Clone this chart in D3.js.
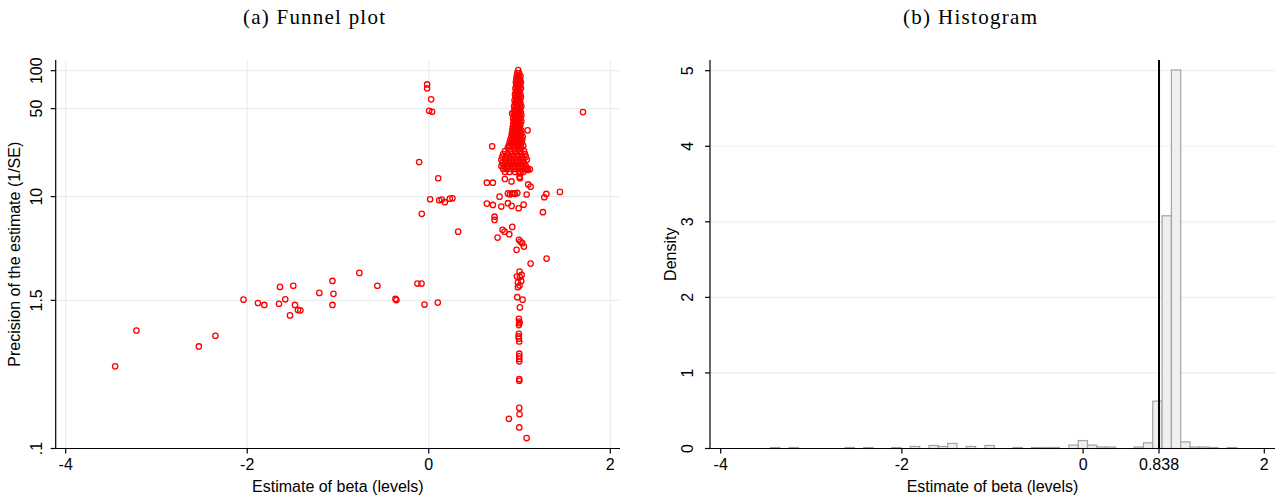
<!DOCTYPE html>
<html>
<head>
<meta charset="utf-8">
<script src="https://cdn.jsdelivr.net/npm/d3@7"></script>
<style>
  html, body { margin: 0; padding: 0; background: #fff; }
  svg { display: block; }
  .tick-label { font-family: "Liberation Sans", Arial, sans-serif; font-size: 16px; fill: #000; }
  .axis-title { font-family: "Liberation Sans", Arial, sans-serif; font-size: 16px; fill: #000; }
  .panel-title { font-family: "Liberation Serif", "DejaVu Serif", serif; font-size: 21px; fill: #000; }
</style>
</head>
<body>
<svg id="chart" width="1283" height="500"></svg>
<script>
// ---------------- DATA ----------------
const panelTitles = ["(a)  Funnel plot", "(b)  Histogram"];
const xTitle = "Estimate of beta (levels)";
const funnelYTitle = "Precision of the estimate (1/SE)";
const histYTitle = "Density";

const funnelXTicks = [-4, -2, 0, 2];
const funnelYTicks = [0.1, 1.5, 10, 50, 100];
const funnelYTickLabels = [".1", "1.5", "10", "50", "100"];

const histXTicks = [-4, -2, 0, 0.838, 2];
const histXTickLabels = ["-4", "-2", "0", "0.838", "2"];
const histYTicks = [0, 1, 2, 3, 4, 5];
const meanBeta = 0.838;

// histogram bins: start, width, densities per bin
const histStart = -3.45;
const histBinWidth = 0.1029;
const histDensity = [
  0.013, 0, 0.013, 0, 0, 0, 0, 0, 0.013, 0,
  0.013, 0, 0, 0.013, 0, 0.027, 0, 0.04, 0.027, 0.067,
  0, 0.027, 0, 0.04, 0, 0, 0.013, 0, 0.013, 0.013,
  0.013, 0, 0.045, 0.105, 0.045, 0.02, 0.02, 0, 0, 0.02,
  0.075, 0.627, 3.08, 5.01, 0.088, 0.02, 0.02, 0.013, 0, 0.013
];

// funnel plot: [estimate, precision]
const funnelScattered = [
  [-3.455,0.449],[-3.221,0.865],[-2.533,0.646],[-2.350,0.786],[-2.041,1.52],[-1.882,1.43],
  [-1.812,1.38],[-1.650,1.41],[-1.639,1.92],[-1.581,1.53],[-1.529,1.14],[-1.493,1.96],
  [-1.474,1.38],[-1.441,1.26],[-1.415,1.25],[-1.206,1.72],[-1.061,2.14],[-1.050,1.69],
  [-1.061,1.38],[-0.765,2.48],[-0.566,1.96],[-0.367,1.54],[-0.356,1.51],[-0.125,2.04],
  [-0.080,2.04],[-0.047,1.39],[0.099,1.44],
  [-0.018,77.8],[-0.018,72.4],[0.026,59.2],[0.004,48.1],[0.037,47.2],[1.699,46.9],
  [-0.106,18.8],[0.104,14.0],[0.699,25.1],[1.089,33.6],[0.015,9.53],[0.115,9.36],
  [0.143,9.47],[0.177,9.03],[0.232,9.64],[0.261,9.71],[-0.077,7.30],[0.324,5.27]
];
const funnelMiddle = [
  [0.640,12.9],[0.706,12.9],[0.838,13.8],[0.912,13.2],[0.780,10.0],[0.872,10.6],
  [0.894,10.4],[0.916,10.6],[0.934,10.6],[0.949,10.5],[0.975,10.7],[1.078,10.4],
  [0.640,8.80],[0.706,8.59],[0.872,8.87],[0.912,8.44],[0.799,8.34],[0.990,8.09],
  [1.045,8.64],[0.725,6.93],[0.725,6.53],[0.813,5.45],[0.835,5.27],[0.887,5.03],
  [0.920,5.75],[0.758,4.73],[1.096,12.5],[1.122,12.0],[1.273,9.89],[1.295,10.5],
  [1.445,10.9],[1.258,7.52],[0.993,4.54],[1.011,4.40],[1.030,4.27],[1.048,4.01],
  [0.967,3.78],[1.011,15.3],[1.004,14.0],[1.092,16.3],[1.067,16.5],[1.085,16.8],
  [1.114,16.5],[1.000,14.4],[0.919,45.8]
];
const funnelLowColumn = [
  [1.122,2.94],[1.298,3.22],[1.000,2.54],[1.023,2.39],[0.971,2.32],[1.004,2.30],
  [1.019,2.14],[0.982,2.08],[1.000,1.97],[0.982,1.91],[0.975,1.59],[1.034,1.52],
  [1.004,1.32],[0.993,1.07],[0.997,1.02],[1.000,0.99],[0.993,0.955],[0.993,0.815],
  [0.990,0.776],[0.993,0.745],[0.997,0.709],[0.997,0.566],[0.997,0.539],[0.997,0.514],
  [0.997,0.492],[0.997,0.356],[0.997,0.345],[0.997,0.210],[1.000,0.187],[0.883,0.172],
  [0.997,0.147],[1.078,0.121]
];
const funnelBlob = [
  [0.87,24.3],[0.93,24.3],[0.98,24.3],[1.02,24.3],
  [0.84,23.0],[0.90,23.0],[0.95,23.0],[1.00,23.0],[1.05,23.0],
  [0.82,21.8],[0.87,21.8],[0.92,21.8],[0.97,21.8],[1.02,21.8],[1.06,21.8],
  [0.81,20.7],[0.85,20.7],[0.89,20.7],[0.94,20.7],[0.99,20.7],[1.03,20.7],[1.07,20.7],
  [0.80,19.6],[0.84,19.6],[0.88,19.6],[0.92,19.6],[0.96,19.6],[1.00,19.6],[1.04,19.6],[1.08,19.6],
  [0.81,18.5],[0.85,18.5],[0.89,18.5],[0.93,18.5],[0.97,18.5],[1.01,18.5],[1.05,18.5],
  [0.80,17.5],[0.83,17.5],[0.87,17.5],[0.91,17.5],[0.95,17.5],[0.99,17.5],[1.03,17.5],[1.07,17.5],
  [0.82,16.6],[0.86,16.6],[0.90,16.6],[0.94,16.6],[0.98,16.6],[1.02,16.6],[1.06,16.6],
  [0.84,15.7],[0.89,15.7],[0.95,15.7],[1.00,15.7],[1.04,15.7]
];
const funnelColumn = [
  [0.985,101],[0.975,95.7],[0.995,95.7],[0.97,90.5],[0.99,90.5],[1.01,90.5],
  [0.965,85.6],[0.985,85.6],[1.005,85.6],[0.96,81.1],[0.98,81.1],[1.00,81.1],[1.015,81.1],
  [0.965,76.7],[0.985,76.7],[1.005,76.7],[0.955,72.6],[0.975,72.6],[0.995,72.6],[1.015,72.6],
  [0.96,68.7],[0.98,68.7],[1.00,68.7],[0.95,65.0],[0.97,65.0],[0.99,65.0],[1.01,65.0],
  [0.955,61.5],[0.975,61.5],[0.995,61.5],[1.015,61.5],[0.945,58.2],[0.965,58.2],[0.985,58.2],[1.005,58.2],
  [0.95,55.1],[0.97,55.1],[0.99,55.1],[1.01,55.1],[0.94,52.1],[0.96,52.1],[0.98,52.1],[1.00,52.1],[1.02,52.1],
  [0.945,49.3],[0.965,49.3],[0.985,49.3],[1.005,49.3],
  [0.935,46.7],[0.955,46.7],[0.975,46.7],[0.995,46.7],[1.015,46.7],
  [0.94,44.2],[0.96,44.2],[0.98,44.2],[1.00,44.2],[1.02,44.2],
  [0.93,41.8],[0.95,41.8],[0.97,41.8],[0.99,41.8],[1.01,41.8],
  [0.935,39.6],[0.955,39.6],[0.975,39.6],[0.995,39.6],[1.02,39.6],
  [0.93,37.4],[0.95,37.4],[0.97,37.4],[0.99,37.4],[1.01,37.4],
  [0.925,35.4],[0.945,35.4],[0.965,35.4],[0.985,35.4],[1.005,35.4],
  [0.92,33.5],[0.94,33.5],[0.96,33.5],[0.98,33.5],[1.00,33.5],[1.02,33.5],
  [0.915,31.7],[0.935,31.7],[0.955,31.7],[0.975,31.7],[0.995,31.7],[1.02,31.7],
  [0.91,30.0],[0.93,30.0],[0.95,30.0],[0.97,30.0],[0.99,30.0],[1.01,30.0],[1.035,30.0],
  [0.90,28.4],[0.92,28.4],[0.945,28.4],[0.965,28.4],[0.985,28.4],[1.005,28.4],[1.03,28.4],
  [0.89,26.9],[0.91,26.9],[0.94,26.9],[0.96,26.9],[0.98,26.9],[1.00,26.9],[1.025,26.9],
  [0.88,25.4],[0.90,25.4],[0.93,25.4],[0.95,25.4],[0.97,25.4],[0.99,25.4],[1.01,25.4],[1.04,25.4]
];

// ---------------- LAYOUT ----------------
const svg = d3.select("#chart");
const gridColor = "#e8eff1";
const plotTop = 60, plotBottom = 448.5;

function drawPanelTitle(text, cx, width) {
  svg.append("text").attr("class", "panel-title")
    .attr("x", cx).attr("y", 24).attr("text-anchor", "middle")
    .attr("textLength", width).attr("lengthAdjust", "spacing")
    .text(text);
}

// ===== Panel (a): funnel =====
const xA = d3.scaleLinear().domain([-4, 2]).range([65.7, 610.3]);
const yA = d3.scaleLog().domain([0.1, 100]).range([plotBottom, 70.7]);
const aLeft = 55.7, aRight = 620;

const gA = svg.append("g");
gA.selectAll("line.vgrid").data(funnelXTicks).join("line")
  .attr("x1", d => xA(d)).attr("x2", d => xA(d)).attr("y1", plotTop).attr("y2", plotBottom)
  .attr("stroke", gridColor).attr("stroke-width", 1.2);
gA.selectAll("line.hgrid").data(funnelYTicks.slice(1)).join("line")
  .attr("x1", aLeft).attr("x2", aRight).attr("y1", d => yA(d)).attr("y2", d => yA(d))
  .attr("stroke", gridColor).attr("stroke-width", 1.2);

const allFunnel = funnelScattered.concat(funnelMiddle, funnelLowColumn, funnelBlob, funnelColumn);
gA.selectAll("circle").data(allFunnel).join("circle")
  .attr("cx", d => xA(d[0])).attr("cy", d => yA(d[1])).attr("r", 2.7)
  .attr("fill", "none").attr("stroke", "#ff0000").attr("stroke-width", 1.3);

gA.append("line").attr("x1", aLeft).attr("x2", aLeft).attr("y1", plotTop).attr("y2", plotBottom)
  .attr("stroke", "#000").attr("stroke-width", 1.2);
gA.append("line").attr("x1", aLeft).attr("x2", aRight).attr("y1", plotBottom).attr("y2", plotBottom)
  .attr("stroke", "#000").attr("stroke-width", 1.2);
funnelXTicks.forEach(t => {
  gA.append("line").attr("x1", xA(t)).attr("x2", xA(t)).attr("y1", plotBottom).attr("y2", plotBottom + 5)
    .attr("stroke", "#000").attr("stroke-width", 1.2);
  gA.append("text").attr("class", "tick-label").attr("x", xA(t)).attr("y", 470)
    .attr("text-anchor", "middle").text(String(t));
});
funnelYTicks.forEach((t, i) => {
  gA.append("line").attr("x1", aLeft - 5).attr("x2", aLeft).attr("y1", yA(t)).attr("y2", yA(t))
    .attr("stroke", "#000").attr("stroke-width", 1.2);
  gA.append("text").attr("class", "tick-label")
    .attr("transform", `translate(42,${yA(t)}) rotate(-90)`)
    .attr("text-anchor", "middle").text(funnelYTickLabels[i]);
});
gA.append("text").attr("class", "axis-title")
  .attr("x", (aLeft + aRight) / 2).attr("y", 492).attr("text-anchor", "middle").text(xTitle);
gA.append("text").attr("class", "axis-title")
  .attr("transform", `translate(20,${(plotTop + plotBottom) / 2}) rotate(-90)`)
  .attr("text-anchor", "middle").text(funnelYTitle);
drawPanelTitle(panelTitles[0], 314, 142);

// ===== Panel (b): histogram =====
const xB = d3.scaleLinear().domain([-4, 2]).range([720.7, 1264.3]);
const yB = d3.scaleLinear().domain([0, 5]).range([plotBottom, 70.7]);
const bLeft = 710, bRight = 1275;
const gB = svg.append("g");

gB.selectAll("line.hgrid").data(histYTicks.slice(1)).join("line")
  .attr("x1", bLeft).attr("x2", bRight).attr("y1", d => yB(d)).attr("y2", d => yB(d))
  .attr("stroke", gridColor).attr("stroke-width", 1.2);

const bins = histDensity.map((d, i) => ({ x0: histStart + i * histBinWidth, x1: histStart + (i + 1) * histBinWidth, d }))
  .filter(b => b.d > 0);
gB.selectAll("rect").data(bins).join("rect")
  .attr("x", b => xB(b.x0)).attr("width", b => xB(b.x1) - xB(b.x0))
  .attr("y", b => yB(b.d)).attr("height", b => yB(0) - yB(b.d))
  .attr("fill", "#efefef").attr("stroke", "#a3a3a3").attr("stroke-width", 1.2);

gB.append("line").attr("x1", xB(meanBeta)).attr("x2", xB(meanBeta)).attr("y1", plotTop).attr("y2", plotBottom)
  .attr("stroke", "#000").attr("stroke-width", 2);

gB.append("line").attr("x1", bLeft).attr("x2", bLeft).attr("y1", plotTop).attr("y2", plotBottom)
  .attr("stroke", "#000").attr("stroke-width", 1.2);
gB.append("line").attr("x1", bLeft).attr("x2", bRight).attr("y1", plotBottom).attr("y2", plotBottom)
  .attr("stroke", "#000").attr("stroke-width", 1.2);
histXTicks.forEach((t, i) => {
  gB.append("line").attr("x1", xB(t)).attr("x2", xB(t)).attr("y1", plotBottom).attr("y2", plotBottom + 5)
    .attr("stroke", "#000").attr("stroke-width", 1.2);
  gB.append("text").attr("class", "tick-label").attr("x", xB(t)).attr("y", 470)
    .attr("text-anchor", "middle").text(histXTickLabels[i]);
});
histYTicks.forEach(t => {
  gB.append("line").attr("x1", bLeft - 5).attr("x2", bLeft).attr("y1", yB(t)).attr("y2", yB(t))
    .attr("stroke", "#000").attr("stroke-width", 1.2);
  gB.append("text").attr("class", "tick-label")
    .attr("transform", `translate(693,${yB(t)}) rotate(-90)`)
    .attr("text-anchor", "middle").text(String(t));
});
gB.append("text").attr("class", "axis-title")
  .attr("x", (bLeft + bRight) / 2).attr("y", 492).attr("text-anchor", "middle").text(xTitle);
gB.append("text").attr("class", "axis-title")
  .attr("transform", `translate(676,${(plotTop + plotBottom) / 2}) rotate(-90)`)
  .attr("text-anchor", "middle").text(histYTitle);
drawPanelTitle(panelTitles[1], 970, 134);
</script>
</body>
</html>
